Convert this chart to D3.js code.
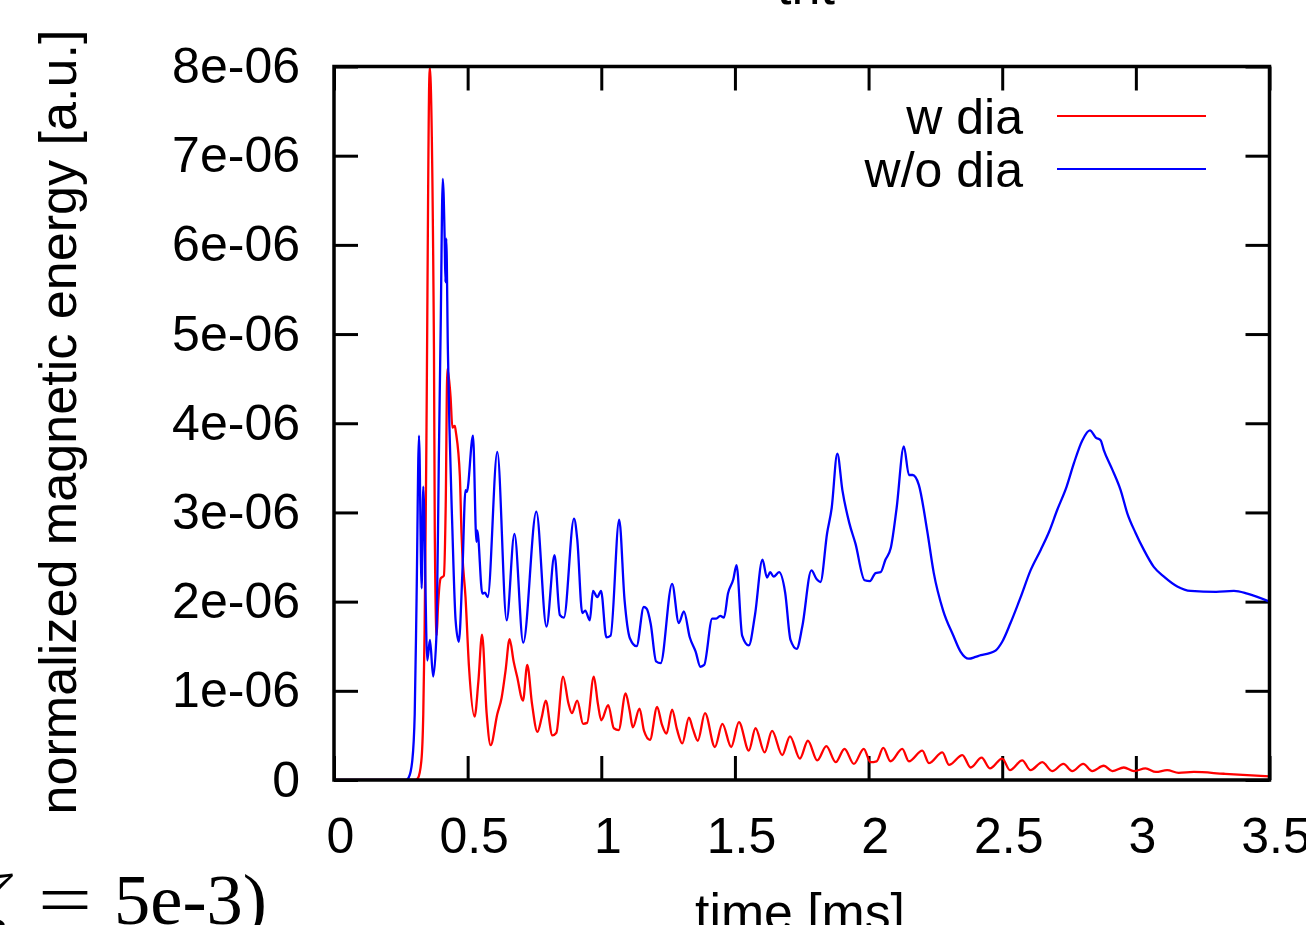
<!DOCTYPE html>
<html>
<head>
<meta charset="utf-8">
<script src="https://cdn.jsdelivr.net/npm/d3@7"></script>
<style>
  body { margin: 0; background: #fff; }
  svg { display: block; font-family: 'Liberation Sans', Arial, sans-serif; }
</style>
</head>
<body>
<svg id="chart" width="1306" height="925"></svg>
<script>
/* globals d3 */

// axis ticks
const xTicks = [0, 0.5, 1, 1.5, 2, 2.5, 3, 3.5];
const xTickLabels = ['0', '0.5', '1', '1.5', '2', '2.5', '3', '3.5'];
const yTicks = [0, 1e-6, 2e-6, 3e-6, 4e-6, 5e-6, 6e-6, 7e-6, 8e-6];
const yTickLabels = ['0', '1e-06', '2e-06', '3e-06', '4e-06', '5e-06', '6e-06', '7e-06', '8e-06'];

const seriesNames = ['w dia', 'w/o dia'];
const seriesColors = ['#ff0000', '#0000ff'];

// [time (ms), magnetic energy in units of 1e-6]
const wDia = [
  [0, 0], [0.305, 0], [0.314, 0.02], [0.327, 0.22], [0.334, 0.74], [0.339, 1.68],
  [0.345, 3.55], [0.358, 8.0], [0.374, 4.83], [0.377, 2.80], [0.384, 1.62], [0.389, 1.94],
  [0.399, 2.26], [0.411, 2.29], [0.418, 3.09], [0.424, 4.61], [0.430, 4.50], [0.436, 4.3],
  [0.443, 3.95], [0.452, 3.97], [0.456, 3.9], [0.471, 3.40], [0.477, 2.77], [0.480, 2.55],
  [0.492, 2.05], [0.505, 1.27], [0.526, 0.71], [0.540, 1.1], [0.554, 1.63], [0.571, 0.75],
  [0.586, 0.39], [0.611, 0.74], [0.627, 0.92], [0.642, 1.23], [0.657, 1.58], [0.672, 1.33],
  [0.685, 1.16], [0.707, 0.89], [0.723, 1.29], [0.741, 0.85], [0.761, 0.54], [0.777, 0.70],
  [0.792, 0.89], [0.817, 0.50], [0.832, 0.53], [0.857, 1.16], [0.877, 0.86], [0.890, 0.75],
  [0.910, 0.89], [0.932, 0.63], [0.947, 0.64], [0.972, 1.16], [0.987, 0.86], [1.000, 0.67],
  [1.026, 0.84], [1.047, 0.58], [1.065, 0.56], [1.091, 0.97], [1.106, 0.78], [1.118, 0.59],
  [1.143, 0.80], [1.160, 0.55], [1.182, 0.45], [1.209, 0.82], [1.226, 0.63], [1.244, 0.52],
  [1.265, 0.79], [1.283, 0.57], [1.303, 0.41], [1.328, 0.70], [1.343, 0.57], [1.361, 0.44],
  [1.388, 0.75], [1.425, 0.37], [1.453, 0.63], [1.486, 0.37], [1.515, 0.65], [1.552, 0.33],
  [1.577, 0.58], [1.611, 0.31], [1.639, 0.55], [1.677, 0.28], [1.706, 0.49], [1.743, 0.24],
  [1.773, 0.44], [1.808, 0.22], [1.842, 0.38], [1.877, 0.20], [1.910, 0.35], [1.945, 0.18],
  [1.982, 0.35], [2.007, 0.20], [2.030, 0.21], [2.055, 0.36], [2.082, 0.21], [2.126, 0.35],
  [2.151, 0.21], [2.201, 0.33], [2.226, 0.19], [2.276, 0.31], [2.301, 0.17], [2.351, 0.28],
  [2.382, 0.14], [2.423, 0.25], [2.454, 0.13], [2.500, 0.24], [2.529, 0.11], [2.575, 0.22],
  [2.606, 0.11], [2.650, 0.20], [2.687, 0.10], [2.729, 0.18], [2.762, 0.10], [2.803, 0.18],
  [2.837, 0.10], [2.880, 0.16], [2.912, 0.10], [2.955, 0.14], [2.993, 0.10], [3.036, 0.13],
  [3.075, 0.09], [3.117, 0.11], [3.160, 0.08], [3.217, 0.09], [3.329, 0.07], [3.500, 0.04]
];

const woDia = [
  [0, 0], [0.270, 0], [0.280, 0.03], [0.293, 0.22], [0.302, 0.74], [0.309, 2.05],
  [0.318, 3.86], [0.328, 2.15], [0.334, 3.29], [0.349, 1.34], [0.359, 1.57], [0.371, 1.16],
  [0.384, 1.68], [0.392, 3.55], [0.399, 5.05], [0.407, 6.74], [0.414, 6.07], [0.417, 5.58],
  [0.420, 6.07], [0.426, 4.83], [0.443, 2.80], [0.455, 1.79], [0.467, 1.55], [0.480, 2.3],
  [0.492, 3.25], [0.497, 3.23], [0.520, 3.86], [0.533, 2.67], [0.536, 2.80], [0.555, 2.09],
  [0.565, 2.10], [0.575, 2.05], [0.611, 3.68], [0.646, 1.79], [0.675, 2.76], [0.708, 1.54],
  [0.757, 3.01], [0.795, 1.72], [0.825, 2.52], [0.845, 1.85], [0.860, 1.82], [0.898, 2.93],
  [0.910, 2.7], [0.929, 1.87], [0.940, 1.9], [0.957, 1.79], [0.969, 2.12], [0.985, 2.05],
  [0.999, 2.12], [1.019, 1.60], [1.035, 1.62], [1.067, 2.92], [1.087, 2.02], [1.107, 1.59],
  [1.132, 1.50], [1.159, 1.94], [1.170, 1.92], [1.185, 1.75], [1.205, 1.33], [1.222, 1.31],
  [1.265, 2.20], [1.290, 1.76], [1.309, 1.89], [1.331, 1.60], [1.353, 1.44], [1.371, 1.27],
  [1.385, 1.29], [1.415, 1.81], [1.430, 1.81], [1.445, 1.84], [1.459, 1.82], [1.474, 2.09],
  [1.494, 2.25], [1.506, 2.41], [1.527, 1.62], [1.552, 1.51], [1.575, 1.85], [1.603, 2.47],
  [1.620, 2.27], [1.632, 2.33], [1.645, 2.28], [1.665, 2.33], [1.688, 2.1], [1.708, 1.57],
  [1.731, 1.47], [1.752, 1.72], [1.786, 2.35], [1.806, 2.25], [1.820, 2.22], [1.845, 2.77],
  [1.862, 3.05], [1.883, 3.66], [1.902, 3.25], [1.928, 2.88], [1.951, 2.65], [1.985, 2.24],
  [2.005, 2.23], [2.026, 2.32], [2.045, 2.33], [2.063, 2.47], [2.083, 2.60], [2.105, 3.05],
  [2.132, 3.74], [2.151, 3.42], [2.165, 3.42], [2.188, 3.31], [2.219, 2.80], [2.244, 2.32],
  [2.279, 1.90], [2.317, 1.62], [2.344, 1.44], [2.375, 1.36], [2.400, 1.38], [2.420, 1.40],
  [2.450, 1.42], [2.475, 1.45], [2.500, 1.55], [2.531, 1.76], [2.569, 2.05], [2.606, 2.35],
  [2.644, 2.58], [2.675, 2.78], [2.706, 3.03], [2.741, 3.29], [2.768, 3.55], [2.800, 3.81],
  [2.828, 3.92], [2.850, 3.84], [2.868, 3.81], [2.880, 3.70], [2.912, 3.48], [2.943, 3.25],
  [2.968, 2.99], [2.999, 2.77], [3.030, 2.58], [3.067, 2.39], [3.105, 2.28], [3.155, 2.17],
  [3.205, 2.12], [3.300, 2.11], [3.367, 2.12], [3.417, 2.09], [3.500, 2.00]
];

const svg = d3.select('#chart');
const plot = { left: 334, right: 1269.5, top: 66.5, bottom: 780 };

const x = d3.scaleLinear().domain([0, 3.5]).range([plot.left, plot.right]);
const y = d3.scaleLinear().domain([0, 8e-6]).range([plot.bottom, plot.top]);

svg.append('clipPath').attr('id', 'plotClip')
  .append('rect')
  .attr('x', plot.left).attr('y', plot.top)
  .attr('width', plot.right - plot.left).attr('height', plot.bottom - plot.top);

// axes, ticks pointing inwards like gnuplot
const styleAxis = g => {
  g.select('.domain').remove();
  g.selectAll('.tick line').attr('stroke', '#000').attr('stroke-width', 3);
  g.selectAll('.tick text')
    .attr('fill', '#000')
    .style('font-size', '50px');
};

svg.append('g')
  .attr('transform', `translate(0,${plot.bottom})`)
  .call(d3.axisBottom(x).tickValues(xTicks)
    .tickFormat((d, i) => xTickLabels[i])
    .tickSizeInner(-24).tickSizeOuter(0).tickPadding(37))
  .call(styleAxis)
  .call(g => g.selectAll('.tick text').attr('dx', 6));

svg.append('g')
  .attr('transform', `translate(0,${plot.top})`)
  .call(d3.axisTop(x).tickValues(xTicks).tickFormat('')
    .tickSizeInner(-24).tickSizeOuter(0))
  .call(styleAxis);

svg.append('g')
  .attr('transform', `translate(${plot.left},0)`)
  .call(d3.axisLeft(y).tickValues(yTicks)
    .tickFormat((d, i) => yTickLabels[i])
    .tickSizeInner(-24).tickSizeOuter(0).tickPadding(34))
  .call(styleAxis);

svg.append('g')
  .attr('transform', `translate(${plot.right},0)`)
  .call(d3.axisRight(y).tickValues(yTicks).tickFormat('')
    .tickSizeInner(-24).tickSizeOuter(0))
  .call(styleAxis);

// curves
const line = d3.line()
  .x(d => x(d[0]))
  .y(d => y(d[1] * 1e-6))
  .curve(d3.curveMonotoneX);

const curves = svg.append('g').attr('clip-path', 'url(#plotClip)');
[wDia, woDia].forEach((data, i) => {
  curves.append('path')
    .datum(data)
    .attr('d', line)
    .attr('fill', 'none')
    .attr('stroke', seriesColors[i])
    .attr('stroke-width', 2.3)
    .attr('stroke-linejoin', 'round');
});

// frame
svg.append('rect')
  .attr('x', plot.left).attr('y', plot.top)
  .attr('width', plot.right - plot.left).attr('height', plot.bottom - plot.top)
  .attr('fill', 'none').attr('stroke', '#000').attr('stroke-width', 3.5);

// legend
const legend = svg.append('g');
seriesNames.forEach((name, i) => {
  const ly = 116 + i * 53;
  legend.append('text')
    .attr('x', 1023).attr('y', ly + 18)
    .attr('text-anchor', 'end')
    .style('font-size', '50px')
    .text(name);
  legend.append('line')
    .attr('x1', 1057).attr('x2', 1206)
    .attr('y1', ly).attr('y2', ly)
    .attr('stroke', seriesColors[i]).attr('stroke-width', 2);
});

// axis titles
svg.append('text')
  .attr('transform', 'translate(76,422) rotate(-90)')
  .attr('text-anchor', 'middle')
  .attr('textLength', 785).attr('lengthAdjust', 'spacingAndGlyphs')
  .style('font-size', '52px')
  .text('normalized magnetic energy [a.u.]');

svg.append('text')
  .attr('x', 800).attr('y', 930)
  .attr('text-anchor', 'middle')
  .attr('textLength', 210).attr('lengthAdjust', 'spacingAndGlyphs')
  .style('font-size', '52px')
  .text('time [ms]');

// title, cut off by the top edge as in the source figure
svg.append('text')
  .attr('x', 806).attr('y', 4)
  .attr('text-anchor', 'middle')
  .style('font-size', '52px')
  .text('tnt');

// piece of the surrounding document caption
const caption = svg.append('g')
  .style('font-family', "'Liberation Serif', 'Times New Roman', serif")
  .style('font-size', '72px');
caption.append('text').attr('x', 9).attr('y', 924)
  .attr('text-anchor', 'end').style('font-style', 'italic').text('ζ');
caption.append('text').attr('x', 38).attr('y', 924)
  .attr('textLength', 54).attr('lengthAdjust', 'spacingAndGlyphs').text('=');
caption.append('text').attr('x', 114).attr('y', 924)
  .attr('textLength', 153).attr('lengthAdjust', 'spacingAndGlyphs').text('5e-3)');
</script>
</body>
</html>
